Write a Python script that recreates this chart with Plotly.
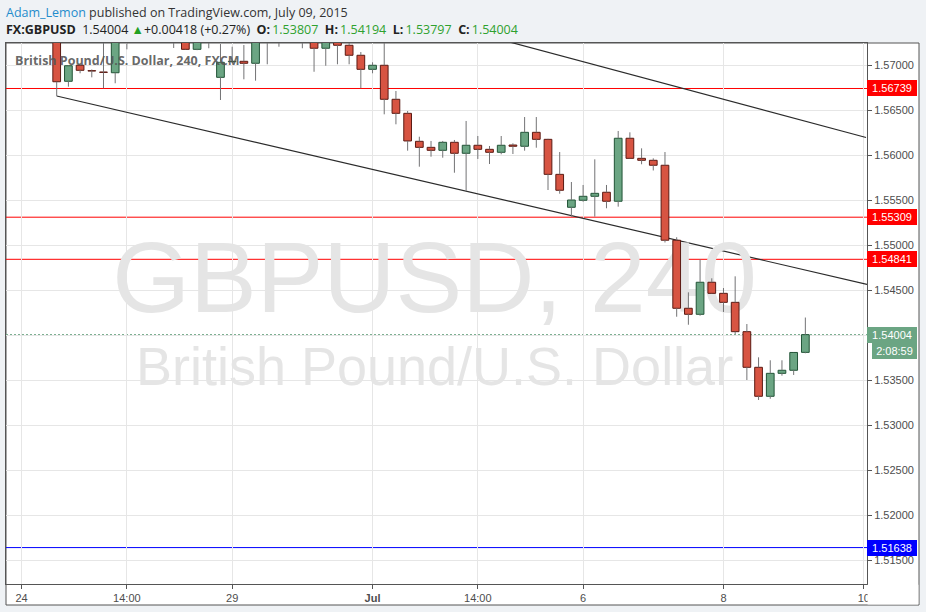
import plotly.graph_objects as go

# ---------------- data (4h candles, FX:GBPUSD) ----------------
opens = [1.57600, 1.56819, 1.56997, 1.56937, 1.56922, 1.56914, 1.57380, 1.57500, 1.57620, 1.57550,
         1.57480, 1.57360, 1.57174, 1.57330, 1.56863, 1.57037, 1.57041, 1.57019, 1.57320, 1.57450,
         1.57380, 1.57420, 1.57350, 1.57186, 1.57255, 1.57219, 1.57108, 1.56952, 1.56997, 1.56619,
         1.56463, 1.56152, 1.56085, 1.56052, 1.56141, 1.56019, 1.56108, 1.56063, 1.56030, 1.56111,
         1.56097, 1.56252, 1.56174, 1.55785, 1.55419, 1.55497, 1.55541, 1.55586, 1.55486, 1.56186,
         1.55963, 1.55941, 1.55886, 1.55053, 1.54297, 1.54230, 1.54586, 1.54463, 1.54363, 1.54037,
         1.53641, 1.53319, 1.53574, 1.53608, 1.53807]
highs = [1.57720, 1.56995, 1.57005, 1.56950, 1.57280, 1.57450, 1.57600, 1.57700, 1.57710, 1.57640,
         1.57550, 1.57400, 1.57380, 1.57400, 1.57233, 1.57203, 1.57222, 1.57400, 1.57520, 1.57550,
         1.57500, 1.57480, 1.57400, 1.57320, 1.57280, 1.57245, 1.57144, 1.57030, 1.57260, 1.56711,
         1.56489, 1.56203, 1.56156, 1.56156, 1.56167, 1.56378, 1.56211, 1.56100, 1.56211, 1.56130,
         1.56422, 1.56422, 1.56180, 1.56033, 1.55700, 1.55667, 1.55952, 1.55667, 1.56267, 1.56252,
         1.56074, 1.55963, 1.56033, 1.55086, 1.54474, 1.54841, 1.54630, 1.54522, 1.54652, 1.54122,
         1.53752, 1.53719, 1.53719, 1.53808, 1.54194]
lows = [1.56656, 1.56759, 1.56908, 1.56863, 1.56741, 1.56797, 1.57174, 1.57450, 1.57480, 1.57400,
        1.57189, 1.57170, 1.57165, 1.57186, 1.56611, 1.57022, 1.56841, 1.56826, 1.57008, 1.57203,
        1.57300, 1.57186, 1.56925, 1.56992, 1.57008, 1.57008, 1.56741, 1.56908, 1.56452, 1.56341,
        1.56048, 1.55870, 1.55981, 1.55970, 1.55803, 1.55603, 1.55956, 1.55900, 1.56008, 1.56011,
        1.56048, 1.56081, 1.55611, 1.55570, 1.55315, 1.55481, 1.55315, 1.55408, 1.55426, 1.55960,
        1.55897, 1.55828, 1.55028, 1.54203, 1.54114, 1.54214, 1.54460, 1.54256, 1.54008, 1.53500,
        1.53278, 1.53292, 1.53548, 1.53556, 1.53797]
closes = [1.56814, 1.56992, 1.56941, 1.56933, 1.56918, 1.57380, 1.57500, 1.57620, 1.57550, 1.57480,
          1.57360, 1.57174, 1.57330, 1.57270, 1.57030, 1.57041, 1.57019, 1.57320, 1.57450, 1.57380,
          1.57420, 1.57350, 1.57186, 1.57280, 1.57219, 1.57108, 1.56952, 1.56997, 1.56619, 1.56463,
          1.56156, 1.56085, 1.56052, 1.56141, 1.56019, 1.56108, 1.56063, 1.56030, 1.56108, 1.56097,
          1.56252, 1.56174, 1.55785, 1.55608, 1.55500, 1.55541, 1.55574, 1.55486, 1.56186, 1.55963,
          1.55941, 1.55886, 1.55053, 1.54297, 1.54230, 1.54586, 1.54463, 1.54363, 1.54037, 1.53641,
          1.53319, 1.53574, 1.53608, 1.53806, 1.54004]
candle_idx = list(range(len(opens)))

x_tick_pos = [-3, 6, 15, 27, 36, 45, 57, 69]
x_tick_text = ["24", "14:00", "29", "<b>Jul</b>", "14:00", "6", "8", "10"]
y_tick_vals = [1.515, 1.520, 1.525, 1.530, 1.535, 1.540, 1.545, 1.550, 1.555, 1.560, 1.565, 1.570]
y_tick_hidden = [1.540]   # covered by the last-price label in the original
y_tick_text = ["" if v in y_tick_hidden else "%.5f" % v for v in y_tick_vals]

red_levels = [1.56739, 1.55309, 1.54841]
blue_level = 1.51638
last_price = 1.54004
countdown = "2:08:59"

lower_trend_x = [0, 69.27]
lower_trend_y = [1.56656, 1.54562]
upper_trend_x = [36, 69.19]
upper_trend_y = [1.57350, 1.56194]

x_range = [-4.334, 69.27]
y_range = [1.5123333, 1.5724444]

wm_x = 32.3
wm_y_big = 1.54528
wm_y_small = 1.53592

# ---------------- styling ----------------
UP_FILL, UP_LINE = "#6ba583", "#225437"
DN_FILL, DN_LINE = "#d75442", "#5b1a13"
WICK = "#737375"
AX = "#555555"
GRID = "#e6e6e6"
TICKFONT = dict(family="Liberation Sans, Arial, sans-serif", size=11, color="#4d4d4d")

bases, heights, fills, borders = [], [], [], []
wx, wy = [], []
for i, o, h, l, c in zip(candle_idx, opens, highs, lows, closes):
    top, bot = max(o, c), min(o, c)
    bases.append(bot)
    heights.append(max(top - bot, 0.00004))
    up = c >= o
    fills.append(UP_FILL if up else DN_FILL)
    borders.append(UP_LINE if up else DN_LINE)
    wx += [i, i, None, i, i, None]
    wy += [h, top, None, bot, l, None]

fig = go.Figure()

# watermark (base subplot, drawn below everything)
fig.add_trace(go.Scatter(x=[wm_x], y=[wm_y_big], mode="text", text=["GBPUSD, 240"],
                         textfont=dict(family="Liberation Sans, Arial", size=100, color="#e5e5e5"),
                         hoverinfo="skip", showlegend=False, xaxis="x", yaxis="y"))
fig.add_trace(go.Scatter(x=[wm_x], y=[wm_y_small], mode="text", text=["British Pound/U.S. Dollar"],
                         textfont=dict(family="Liberation Sans, Arial", size=54, color="#e5e5e5"),
                         hoverinfo="skip", showlegend=False, xaxis="x", yaxis="y"))

# candle bodies and wicks (overlay subplot)
fig.add_trace(go.Bar(x=candle_idx, y=heights, base=bases, width=0.66,
                     marker=dict(color=fills, line=dict(color=borders, width=1)),
                     hoverinfo="skip", showlegend=False, xaxis="x2", yaxis="y2"))
fig.add_trace(go.Scatter(x=wx, y=wy, mode="lines", line=dict(color=WICK, width=1),
                         hoverinfo="skip", showlegend=False, xaxis="x2", yaxis="y2"))

shapes = []
# outer frame
shapes.append(dict(type="rect", xref="paper", yref="paper", x0=0, x1=(919 - 6) / 861,
                   y0=(584 - 605) / 541, y1=1, fillcolor="white",
                   line=dict(color=AX, width=1), layer="below"))
for lv in red_levels:
    shapes.append(dict(type="line", xref="paper", yref="y", x0=0, x1=1, y0=lv, y1=lv,
                       line=dict(color="#ff0000", width=1), layer="between"))
shapes.append(dict(type="line", xref="paper", yref="y", x0=0, x1=1, y0=blue_level, y1=blue_level,
                   line=dict(color="#0000ff", width=1), layer="between"))
shapes.append(dict(type="line", xref="paper", yref="y", x0=0, x1=1, y0=last_price, y1=last_price,
                   line=dict(color=UP_FILL, width=1, dash="2px,2px"), layer="between"))
for tx, ty in ((lower_trend_x, lower_trend_y), (upper_trend_x, upper_trend_y)):
    shapes.append(dict(type="line", xref="x", yref="y", x0=tx[0], x1=tx[1], y0=ty[0], y1=ty[1],
                       line=dict(color="#2b2b2b", width=1.2), layer="between"))
# clip the last date label under the price scale
shapes.append(dict(type="rect", xref="paper", yref="paper", x0=(867.6 - 6) / 861, x1=(918.4 - 6) / 861,
                   y0=(584 - 604.4) / 541, y1=(584 - 584.8) / 541, fillcolor="white",
                   line=dict(width=0), layer="above"))

annotations = []
def price_box(y, text, color, yshift=0, xshift=0, width=48):
    return dict(x=1, xref="paper", y=y, yref="y", xanchor="left", yanchor="middle",
                text=text, showarrow=False, bgcolor=color, borderwidth=0, borderpad=1,
                width=width, height=14, align="center", xshift=xshift, yshift=yshift,
                font=dict(family="Liberation Sans, Arial", size=11, color="white"))

for lv in red_levels:
    annotations.append(price_box(lv, "%.5f" % lv, "#ff0000"))
annotations.append(price_box(blue_level, "%.5f" % blue_level, "#0000ff"))
annotations.append(price_box(last_price, "%.5f" % last_price, UP_FILL))
annotations.append(price_box(last_price, countdown, UP_FILL, yshift=-16, xshift=5, width=43))

HDR = "Open Sans, Noto Sans, sans-serif"
GREEN_TXT = "#2ea12e"
TS = "\u2009"
annotations.append(dict(x=0, xref="paper", y=(584 - 12.5) / 541, yref="paper", xanchor="left",
                        yanchor="middle", xshift=-2, showarrow=False,
                        text="<span style='color:#1f8ccc'>Adam_Lemon</span> published on TradingView.com, July 09, 2015",
                        font=dict(family=HDR, size=12.5, color="#333333")))
g = "<span style='color:" + GREEN_TXT + "'>"
line2 = ("<b>FX:GBPUSD</b>&nbsp; 1.54004 <span style='color:#22a022'>▲</span>+0.00418 (+0.27%)&nbsp; "
         "<b>O:</b>" + TS + g + "1.53807</span>&nbsp; <b>H:</b>" + TS + g + "1.54194</span>&nbsp; "
         "<b>L:</b>" + TS + g + "1.53797</span>&nbsp; <b>C:</b>" + TS + g + "1.54004</span>")
annotations.append(dict(x=0, xref="paper", y=(584 - 29.5) / 541, yref="paper", xanchor="left",
                        yanchor="middle", xshift=-2, showarrow=False, text=line2,
                        font=dict(family=HDR, size=12.5, color="#222222")))
annotations.append(dict(x=(15 - 6) / 861, xref="paper", y=(584 - 60.5) / 541, yref="paper",
                        xanchor="left", yanchor="middle", xshift=-2, showarrow=False,
                        text="<b>British Pound/U.S. Dollar, 240, FXCM</b>",
                        font=dict(family=HDR, size=12.5, color="rgba(85,85,85,0.9)")))

fig.update_layout(
    width=926, height=612,
    margin=dict(l=6, r=59, t=43, b=28, pad=0),
    paper_bgcolor="#eff2f5", plot_bgcolor="white",
    showlegend=False, shapes=shapes, annotations=annotations,
    xaxis=dict(range=x_range, tickmode="array", tickvals=x_tick_pos, ticktext=x_tick_text,
               showgrid=True, gridcolor=GRID, gridwidth=1, zeroline=False,
               showline=True, linecolor=AX, linewidth=1, mirror=True,
               ticks="outside", ticklen=4, tickcolor=AX, tickfont=TICKFONT, automargin=False,
               fixedrange=True),
    yaxis=dict(range=y_range, side="right", tickmode="array", tickvals=y_tick_vals, ticktext=y_tick_text,
               showgrid=True, gridcolor=GRID, gridwidth=1, zeroline=False,
               showline=True, linecolor=AX, linewidth=1, mirror=True,
               ticks="outside", ticklen=4, tickcolor=AX, tickfont=TICKFONT, automargin=False,
               fixedrange=True),
    xaxis2=dict(range=x_range, overlaying="x", visible=False, fixedrange=True),
    yaxis2=dict(range=y_range, overlaying="y", visible=False, fixedrange=True),
)

fig.write_html("out.html", config={"displayModeBar": False},
               post_script="document.body.style.margin='0px';document.body.style.overflow='hidden';")
